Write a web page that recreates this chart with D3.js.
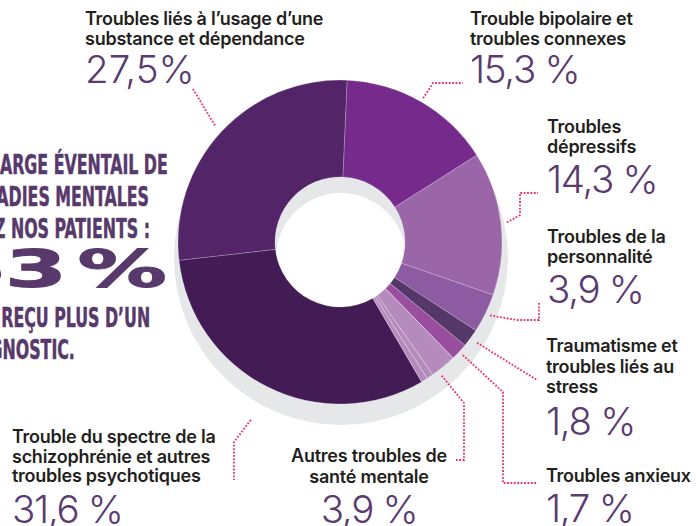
<!DOCTYPE html>
<html>
<head>
<meta charset="utf-8">
<script src="https://cdn.jsdelivr.net/npm/d3@7"></script>
<style>
  body { margin: 0; background: #fff; }
  svg { display: block; }
</style>
</head>
<body>
<div id="chart"></div>
<script>
/* Donut: mental illness diagnoses of patients */

// data, clockwise from the top
const categories = ["Trouble bipolaire et troubles connexes", "Troubles dépressifs",
    "Troubles de la personnalité", "Traumatisme et troubles liés au stress", "Troubles anxieux",
    "Autres troubles de santé mentale",
    "Trouble du spectre de la schizophrénie et autres troubles psychotiques",
    "Troubles liés à l’usage d’une substance et dépendance"];
const values = [15.3, 14.3, 3.9, 1.8, 1.7, 3.9, 31.6, 27.5];
const valueLabels = ["15,3 %", "14,3 %", "3,9 %", "1,8 %", "1,7 %", "3,9 %", "31,6 %", "27,5%"];
const labelLines = [
    ["Trouble bipolaire et", "troubles connexes"],
    ["Troubles", "dépressifs"],
    ["Troubles de la", "personnalité"],
    ["Traumatisme et", "troubles liés au", "stress"],
    ["Troubles anxieux"],
    ["Autres troubles de", "santé mentale"],
    ["Trouble du spectre de la", "schizophrénie et autres", "troubles psychotiques"],
    ["Troubles liés à l’usage d’une", "substance et dépendance"]
];
// the "autres" slice is split in thin parts
const otherParts = [2.6, 0.65, 0.65];
const headline = ["UN LARGE ÉVENTAIL DE", "MALADIES MENTALES", "CHEZ NOS PATIENTS :"];
const bigStat = ["63", "%"];
const footline = ["ONT REÇU PLUS D’UN", "DIAGNOSTIC."];

const width = 696, height = 526;
const cx = 340, cy = 242, outerR = 162, innerR = 65;
const startAngle = 2.5 * Math.PI / 180;

const colors = ["#762b8c", "#9a66a8", "#8c5ba1", "#55376a", "#9a4f9e", "#b58bbd", "#431c56", "#532468"];
const color = d3.scaleOrdinal(categories, colors);

// label positions and leader elbows
const labelLayout = [
    {x: 470, anchor: "start", lines: [25, 45], pct: 83, r: 166, path: [[433, 83], [463, 83]]},
    {x: 547, anchor: "start", lines: [133, 153], pct: 193, r: 168, path: [[520, 215], [520, 193], [538, 193]]},
    {x: 547, anchor: "start", lines: [243, 263], pct: 303, r: 167, path: [[517, 320], [539, 320], [539, 303]]},
    {x: 546, anchor: "start", lines: [352, 373, 393], pct: 435, r: 170, path: [[537, 380]]},
    {x: 546, anchor: "start", lines: [482], pct: 522, r: 167, path: [[503, 392], [503, 483], [536, 483]]},
    {x: 369, anchor: "middle", lines: [462, 483], pct: 523, r: 168, path: [[464, 403], [464, 460], [456, 460]]},
    {x: 12, anchor: "start", lines: [443, 463, 482], pct: 523, r: 199, path: [[234, 442], [234, 480]]},
    {x: 85, anchor: "start", lines: [25, 45], pct: 83, r: 171, path: [[193, 89]]}
];

let svg = d3.select("#chart")
    .append("svg")
    .attr("width", width)
    .attr("height", height)
    .attr("viewBox", [0, 0, width, height]);

const pie = d3.pie()
    .sort(null)
    .startAngle(startAngle)
    .endAngle(startAngle + 2 * Math.PI);

const arcs = pie(values);

const arc = d3.arc()
    .innerRadius(innerR)
    .outerRadius(outerR);

/* gray shadow under the donut */
svg.append("path")
    .attr("transform", `translate(${cx + 1},${cy + 16})`)
    .attr("d", d3.arc().innerRadius(innerR).outerRadius(outerR + 5)
        .startAngle(0).endAngle(2 * Math.PI)())
    .attr("fill", "#e6e7e9");

let donut = svg.append("g")
    .attr("transform", `translate(${cx},${cy})`);

donut.selectAll("path.slice")
    .data(arcs)
    .join("path")
    .attr("class", "slice")
    .attr("d", arc)
    .attr("fill", (d, i) => color(categories[i]))
    .attr("stroke", "rgba(255,255,255,0.35)")
    .attr("stroke-width", 0.6);

/* thin lines inside the "autres" slice */
const other = arcs[5];
const subArcs = d3.pie().sort(null)
    .startAngle(other.startAngle)
    .endAngle(other.endAngle)(otherParts);

donut.selectAll("path.sub")
    .data(subArcs)
    .join("path")
    .attr("class", "sub")
    .attr("d", arc)
    .attr("fill", "none")
    .attr("stroke", "rgba(255,255,255,0.45)")
    .attr("stroke-width", 0.6);

/* leader lines */
const leader = d3.line();
arcs.forEach((a, i) => {
    const lay = labelLayout[i];
    const mid = (a.startAngle + a.endAngle) / 2;
    const start = [cx + lay.r * Math.sin(mid), cy - lay.r * Math.cos(mid)];
    svg.append("path")
        .attr("d", leader([start, ...lay.path]))
        .attr("fill", "none")
        .attr("stroke", "#ec2f6b")
        .attr("stroke-width", 1.8)
        .attr("stroke-dasharray", "1.8 1.6");
});

/* category labels and percentages */
labelLines.forEach((lines, i) => {
    const lay = labelLayout[i];
    let g = svg.append("g").attr("class", "label");
    lines.forEach((t, j) => {
        g.append("text")
            .attr("x", lay.x)
            .attr("y", lay.lines[j])
            .attr("text-anchor", lay.anchor)
            .style("font-family", "Inter, 'Noto Sans', sans-serif")
            .style("font-weight", 600)
            .style("font-size", "18px")
            .style("letter-spacing", "-0.25px")
            .style("fill", "#231f20")
            .text(t);
    });
    g.append("text")
        .attr("x", lay.x)
        .attr("y", lay.pct)
        .attr("text-anchor", lay.anchor)
        .style("font-family", "Inter, 'Noto Sans', sans-serif")
        .style("font-weight", 300)
        .style("font-size", "38.5px")
        .style("letter-spacing", i === 7 ? "0px" : "-1.3px")
        .style("fill", "#5b3b70")
        .text(valueLabels[i]);
});

/* headline on the left, cut off by the page edge */
const headColor = "#573a6b";
const condensed = "'Liberation Sans Narrow', 'DejaVu Sans Condensed', sans-serif";

let probe = svg.append("text")
    .style("font-family", condensed)
    .style("font-weight", 700)
    .style("font-size", "27px");
const fullW = probe.text(headline[0]).node().getComputedTextLength();
const partW = probe.text(headline[0].slice(4)).node().getComputedTextLength();
probe.remove();
const sx = 168 / partW;
const x0 = 168 - sx * fullW;

const headRows = [
    {t: headline[0], y: 174},
    {t: headline[1], y: 206},
    {t: headline[2], y: 238},
    {t: footline[0], y: 327},
    {t: footline[1], y: 359}
];
headRows.forEach(r => {
    svg.append("text")
        .attr("transform", `translate(${x0},${r.y}) scale(${sx},1)`)
        .style("font-family", condensed)
        .style("font-weight", 700)
        .style("font-size", "27px")
        .style("fill", headColor)
        .style("stroke", headColor)
        .style("stroke-width", 0.5)
        .text(r.t);
});

/* big "63 %" in a wide heavy face */
let big = svg.append("text")
    .style("font-family", "'DejaVu Sans', sans-serif")
    .style("font-weight", 700)
    .style("font-size", "51px")
    .style("fill", headColor)
    .style("stroke", headColor)
    .style("stroke-width", 1)
    .attr("text-anchor", "end");
const w3pct = big.text("3" + bigStat[1]).node().getComputedTextLength() + 6;
big.text(null);
big.append("tspan").text(bigStat[0]);
big.append("tspan").attr("dx", 6).text(bigStat[1]);
const bsx = 162 / w3pct;
big.attr("transform", `translate(167,287) scale(${bsx},1)`);
</script>
</body>
</html>
